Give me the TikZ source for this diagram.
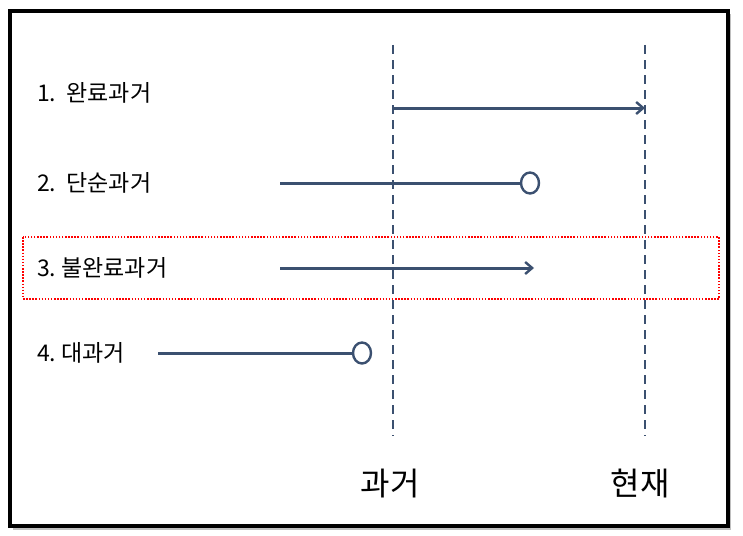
\documentclass[tikz,border=0pt]{standalone}
\usepackage{fontspec}
\setmainfont{Noto Sans CJK KR}
\usetikzlibrary{arrows.meta,shapes.geometric}
\definecolor{lineblue}{HTML}{3B5070}
\begin{document}
\begin{tikzpicture}[x=1pt,y=-1pt,
  rowlabel/.style={anchor=west,inner sep=0pt,font=\fontsize{23}{27}\selectfont},
  timelabel/.style={inner sep=0pt,font=\fontsize{32}{38}\selectfont},
  timeline/.style={draw=lineblue,line width=2.5pt,dash pattern=on 9pt off 6pt},
  span/.style={draw=lineblue,line width=3pt},
  arrowspan/.style={span,-{Straight Barb[length=7pt,width=12pt,line width=2.4pt]}},
  endring/.style={ellipse,draw=lineblue,line width=2.4pt,fill=white,inner sep=0pt,minimum width=18pt,minimum height=21pt},
  frame/.style={draw=black,line width=3.2pt},
  highlight/.style={draw=red,line width=1.5pt,dash pattern=on 1.5pt off 1.6pt}]
\useasboundingbox (0,0) rectangle (743,535);
% frame with soft shadow
\fill[black!25] (13,14) rectangle (731,530);
\draw[frame,fill=white] (10,11) rectangle (728,526);
% highlight box
\draw[highlight] (23,237) rectangle (719,299);
% time lines
\coordinate (pt) at (393,45);
\coordinate (pb) at (393,436);
\coordinate (nt) at (645,45);
\coordinate (nb) at (645,436);
\draw[timeline] (pt) -- (pb);
\draw[timeline] (nt) -- (nb);
\node[timelabel] (past) at (390,484) {과거};
\node[timelabel] (now) at (640,484) {현재};
% row labels
\node[rowlabel] (r1) at (37,93) {1.\ \ 완료과거};
\node[rowlabel] (r2) at (37,183) {2.\ \ 단순과거};
\node[rowlabel] (r3) at (37,268) {3.\ 불완료과거};
\node[rowlabel] (r4) at (37,353) {4.\ 대과거};
% row 1
\coordinate (a1) at (393,108);
\coordinate (b1) at (645,108);
\draw[arrowspan] (a1) -- (b1);
% row 2
\coordinate (a2) at (280,183);
\node[endring] (c2) at (530,183) {};
\draw[span] (a2) -- (c2.west);
% row 3
\coordinate (a3) at (280,268);
\coordinate (b3) at (534,268);
\draw[arrowspan] (a3) -- (b3);
% row 4
\coordinate (a4) at (158,353);
\node[endring] (c4) at (362,353) {};
\draw[span] (a4) -- (c4.west);
\end{tikzpicture}
\end{document}
